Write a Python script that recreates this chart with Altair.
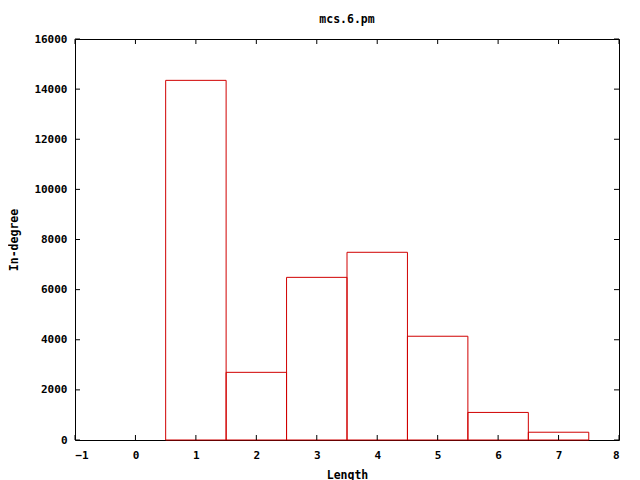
import altair as alt
import pandas as pd

lengths = [1, 2, 3, 4, 5, 6, 7]
counts = [14350, 2700, 6490, 7490, 4140, 1100, 310]
x_ticks = [-1, 0, 1, 2, 3, 4, 5, 6, 7, 8]
y_ticks = [0, 2000, 4000, 6000, 8000, 10000, 12000, 14000, 16000]

W, H = 544, 401
FONT = "DejaVu Sans Mono"

bars_df = pd.DataFrame({"length": lengths, "count": counts})
xt_df = pd.DataFrame({"t": x_ticks})
yt_df = pd.DataFrame({"t": y_ticks})

xscale = alt.Scale(domain=[-1, 8], nice=False, zero=False)
yscale = alt.Scale(domain=[0, 16000], nice=False)

axis_common = dict(
    tickSize=0, domain=False, grid=False, format="d",
    labelFont=FONT, labelFontSize=11, labelFontWeight="bold", labelColor="black",
    titleFont=FONT, titleFontSize=11.5, titleFontWeight="bold", titleColor="black",
)
xaxis = alt.Axis(values=x_ticks, labelPadding=9, titlePadding=9, **axis_common)
yaxis = alt.Axis(values=y_ticks, labelPadding=8, titlePadding=14, **axis_common)

bars = alt.Chart(bars_df).transform_calculate(
    x0="datum.length - 0.5", x1="datum.length + 0.5"
).mark_rect(fillOpacity=0, stroke="#d00000", strokeWidth=1).encode(
    x=alt.X("x0:Q", scale=xscale, title="Length", axis=xaxis),
    x2="x1:Q",
    y=alt.Y("count:Q", scale=yscale, title="In-degree", axis=yaxis),
    y2=alt.datum(0),
)

tick_len = 5
bottom = alt.Chart(xt_df).mark_rule(color="black").encode(
    x=alt.X("t:Q", scale=xscale, title="Length", axis=xaxis),
    y=alt.value(H), y2=alt.value(H - tick_len))
top = alt.Chart(xt_df).mark_rule(color="black").encode(
    x=alt.X("t:Q", scale=xscale, title="Length", axis=xaxis),
    y=alt.value(0), y2=alt.value(tick_len))
left = alt.Chart(yt_df).mark_rule(color="black").encode(
    y=alt.Y("t:Q", scale=yscale, title="In-degree", axis=yaxis),
    x=alt.value(0), x2=alt.value(tick_len))
right = alt.Chart(yt_df).mark_rule(color="black").encode(
    y=alt.Y("t:Q", scale=yscale, title="In-degree", axis=yaxis),
    x=alt.value(W), x2=alt.value(W - tick_len))

chart = alt.layer(bars, bottom, top, left, right).properties(
    width=W, height=H,
    background="white",
    title=alt.TitleParams("mcs.6.pm", font=FONT, fontSize=11.5, fontWeight="bold",
                          color="black", anchor="middle", offset=8),
    autosize=alt.AutoSizeParams(type="none"),
    padding={"left": 67, "top": 31, "right": 13, "bottom": 40},
).configure_view(stroke="black", strokeWidth=1)

chart.save("out.html", embed_options={"renderer": "svg", "actions": False})
